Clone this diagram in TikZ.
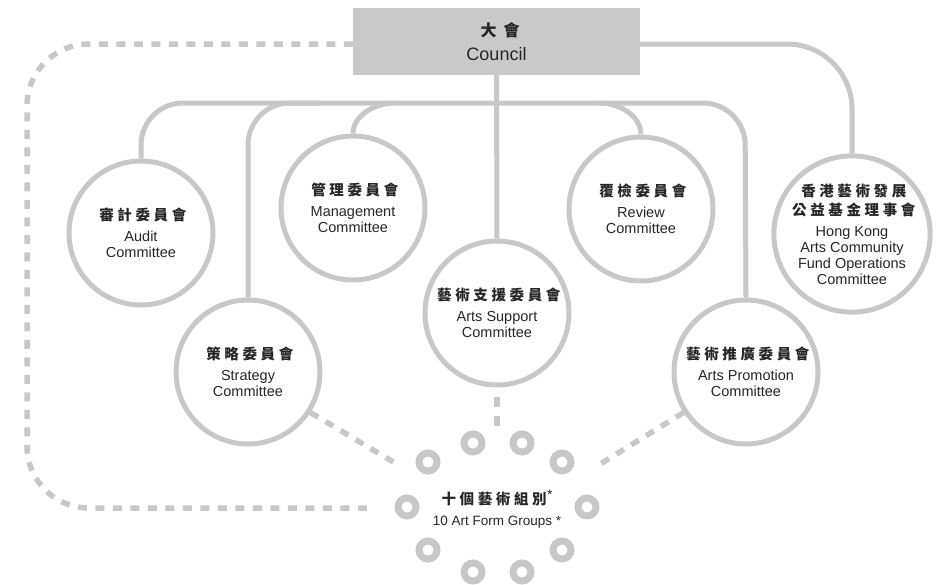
\documentclass[tikz,border=0pt]{standalone}
\usepackage{fontspec}
\setmainfont{Liberation Sans}
\newfontfamily\cjk{Noto Sans CJK TC}[LetterSpace=25]
\newfontfamily\cjkc{Noto Sans CJK TC}[LetterSpace=45]
\definecolor{lg}{HTML}{C8C8C8}
\definecolor{boxfill}{HTML}{C9C9CA}
\definecolor{tx}{HTML}{262626}
\newcommand\zh[1]{{\cjk\bfseries\fontsize{14.5}{16}\selectfont #1\kern-0.25em}}
\begin{document}
\begin{tikzpicture}[x=1pt,y=-1pt,
  conn/.style={draw=lg,line width=5pt},
  dashline/.style={draw=lg,line width=5.5pt,dash pattern=on 9pt off 8.5pt},
  comm/.style={circle,draw=lg,line width=5pt,fill=white,minimum size=144pt,inner sep=0pt,align=center,text=tx,font=\fontsize{14.5}{16}\selectfont},
  ringc/.style={circle,draw=lg,line width=7pt,minimum size=18pt,inner sep=0pt},
  lbl/.style={text=tx,align=center,inner sep=0pt}]
\useasboundingbox (0,0) rectangle (937,584);

% council
\node[fill=boxfill,minimum width=287pt,minimum height=67pt,inner sep=0pt,align=center,text=tx] (council) at (496.5,41.5)
  {{\cjkc\bfseries\fontsize{16}{18}\selectfont 大會\kern-0.45em}\\[8pt]{\fontsize{18}{20}\selectfont Council}};

% committees
\node[comm] (audit) at (141,233) {\zh{審計委員會}\\[5pt]Audit\\Committee};
\node[comm] (strat) at (248,372) {\zh{策略委員會}\\[5pt]Strategy\\Committee};
\node[comm] (mgmt) at (353,208) {\zh{管理委員會}\\[5pt]Management\\Committee};
\node[comm] (support) at (497,313) {\zh{藝術支援委員會}\\[5pt]Arts Support\\Committee};
\node[comm] (review) at (641,209) {\zh{覆檢委員會}\\[5pt]Review\\Committee};
\node[comm] (promo) at (746,372) {\zh{藝術推廣委員會}\\[5pt]Arts Promotion\\Committee};
\node[comm,minimum size=152pt] (hk) at (852,234) {\zh{香港藝術發展}\\[3pt]\zh{公益基金理事會}\\[5pt]Hong Kong\\Arts Community\\Fund Operations\\Committee};

% art form groups
\node[ringc] (g1) at (473,443) {};
\node[ringc] (g2) at (522,443) {};
\node[ringc] (g3) at (428,462) {};
\node[ringc] (g4) at (562,462) {};
\node[ringc] (g5) at (407,507) {};
\node[ringc] (g6) at (587,507) {};
\node[ringc] (g7) at (428,550) {};
\node[ringc] (g8) at (562,550) {};
\node[ringc] (g9) at (473,572) {};
\node[ringc] (g10) at (522,572) {};
\node[lbl,font=\fontsize{13.5}{16}\selectfont] (groups) at (497,509)
  {\zh{十個藝術組別}\hspace{4pt}\raisebox{5pt}{\fontsize{14}{14}\selectfont *}\\[5pt]10 Art Form Groups *};

% free ends
\coordinate (dashend) at (372,508);
\coordinate (sdash) at (497,430);
\coordinate (ldash) at (400,466);
\coordinate (rdash) at (597,466);

% solid connectors
\draw[conn,rounded corners=42pt] (audit.north) -- (141,103) -- (745,103) -- (promo.north);
\draw[conn,rounded corners=42pt] (strat.north) -- (248,103) -- (320,103);
\draw[conn] (395,103) .. controls (374,103) and (353,116) .. (mgmt.north);
\draw[conn] (599,103) .. controls (620,103) and (641,116) .. (review.north);
\draw[conn] (council.south) -- (support.north);
\draw[conn,rounded corners=65pt] ([yshift=-2.5pt]council.east) -| (hk.north);

% dashed connectors
\draw[dashline,rounded corners=62pt] ([yshift=-2.5pt]council.west) -- (27,44) -- (27,508) -- (dashend);
\draw[dashline,dash pattern=on 10pt off 9pt] ([yshift=-9pt]support.south) -- (sdash);
\draw[dashline] (strat.-33) -- (ldash);
\draw[dashline] (promo.-147) -- (rdash);
\end{tikzpicture}
\end{document}
